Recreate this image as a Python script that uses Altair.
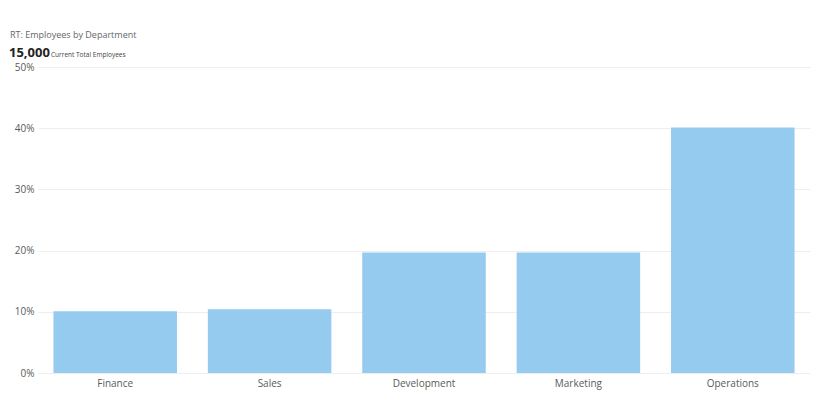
import altair as alt
import pandas as pd

departments = ["Finance", "Sales", "Development", "Marketing", "Operations"]
shares = [0.101, 0.104, 0.197, 0.197, 0.401]
title_text = "RT: Employees by Department"
total_text = "15,000"
total_label = "Current Total Employees"

df = pd.DataFrame({"dept": departments, "share": shares})

FONT = "Open Sans"

bars = alt.Chart(df).mark_bar(color="#95CBEE").encode(
    x=alt.X("dept:N", sort=departments, title=None,
            scale=alt.Scale(paddingInner=0.2, paddingOuter=0.1),
            axis=alt.Axis(labelAngle=0, labelFont=FONT, labelFontSize=10,
                          labelColor="#5a5a5a", ticks=False, domain=False,
                          labelPadding=5)),
    y=alt.Y("share:Q", title=None,
            scale=alt.Scale(domain=[0, 0.5]),
            axis=alt.Axis(format="%", values=[0, 0.1, 0.2, 0.3, 0.4, 0.5],
                          labelFont=FONT, labelFontSize=10, labelColor="#5a5a5a",
                          ticks=False, domain=False, labelPadding=4,
                          gridColor="#EEEEEE", gridWidth=1)),
)

t1 = alt.Chart(pd.DataFrame({"t": [title_text]})).mark_text(
    align="left", baseline="alphabetic", font=FONT, fontSize=9, color="#666666"
).encode(text="t:N", x=alt.value(-28), y=alt.value(-29))

t2 = alt.Chart(pd.DataFrame({"t": [total_text]})).mark_text(
    align="left", baseline="alphabetic", font=FONT, fontSize=13,
    fontWeight="bold", color="#222222"
).encode(text="t:N", x=alt.value(-29), y=alt.value(-10))

t3 = alt.Chart(pd.DataFrame({"t": [total_label]})).mark_text(
    align="left", baseline="alphabetic", font=FONT, fontSize=6.5, color="#444444"
).encode(text="t:N", x=alt.value(13), y=alt.value(-10))

chart = alt.layer(bars, t1, t2, t3).properties(
    width=772, height=306,
    autosize=alt.AutoSizeParams(type="none"),
    padding={"left": 30, "top": 59, "right": 2, "bottom": 40},
).configure_view(stroke=None)

chart.save("out.html", embed_options={"renderer": "svg", "actions": False})
